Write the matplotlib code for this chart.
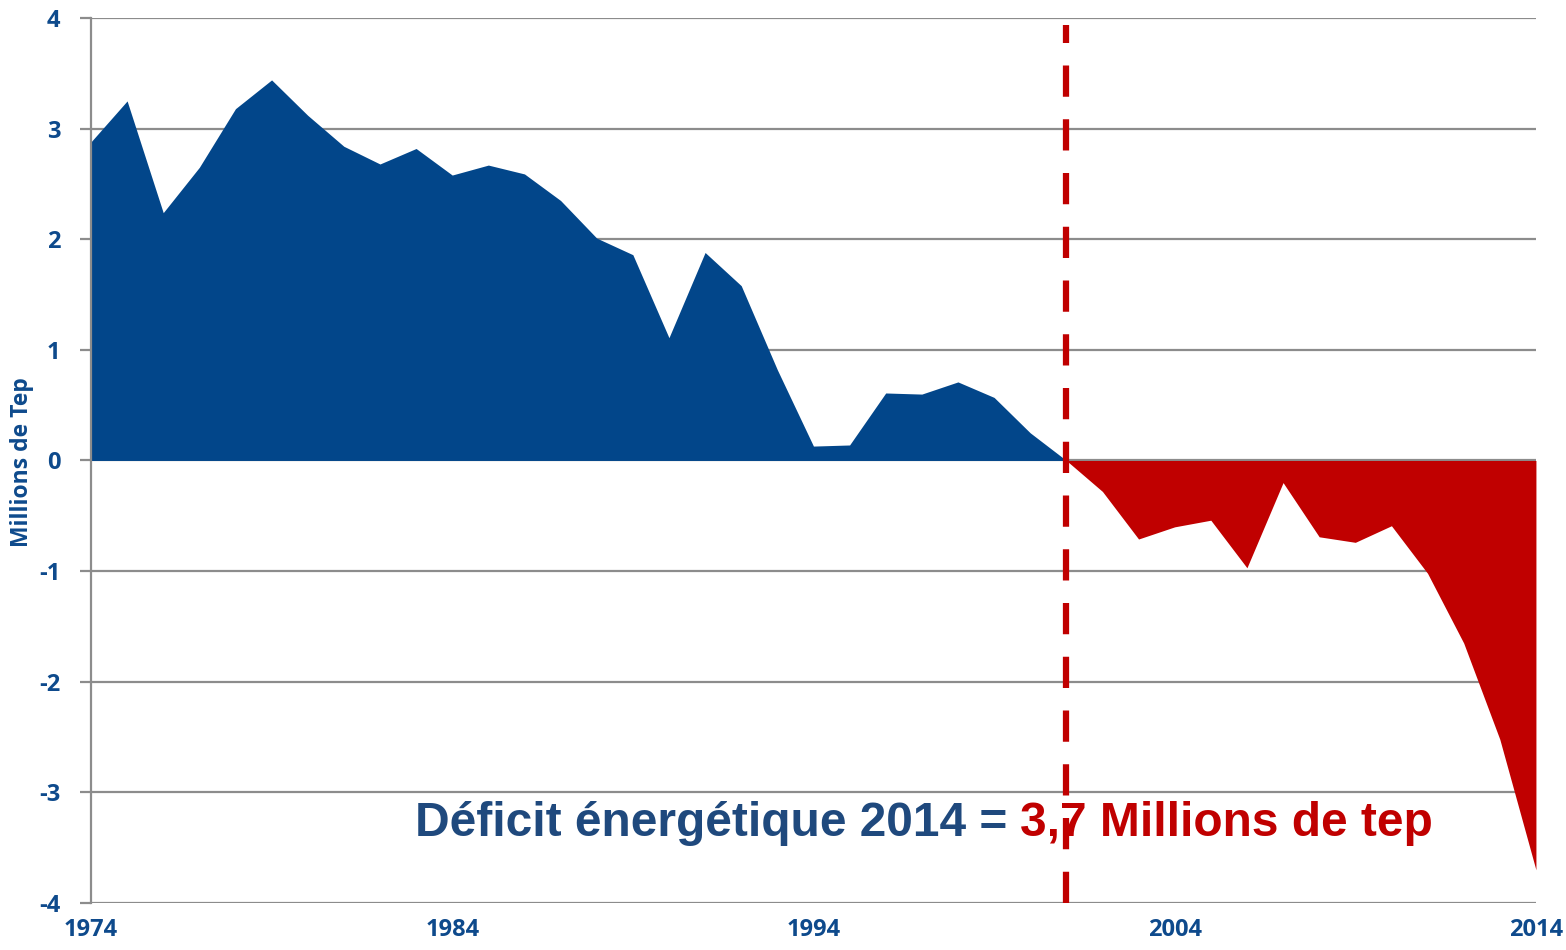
import matplotlib.pyplot as plt
import numpy as np

# energy balance, millions of tep
years = list(range(1974, 2015))
balance = [2.88, 3.25, 2.24, 2.65, 3.18, 3.44, 3.12, 2.84, 2.68, 2.82,
           2.58, 2.67, 2.59, 2.35, 2.01, 1.86, 1.11, 1.88, 1.58, 0.82,
           0.13, 0.14, 0.61, 0.60, 0.71, 0.57, 0.25, 0.00, -0.28, -0.71,
           -0.60, -0.54, -0.97, -0.20, -0.69, -0.74, -0.59, -1.02, -1.65,
           -2.52, -3.70]
split_year = 2001
xticks = [1974, 1984, 1994, 2004, 2014]
yticks = [-4, -3, -2, -1, 0, 1, 2, 3, 4]

blue = '#02468A'
red = '#C00000'
tick_blue = '#0E4A8C'
text_blue = '#1F497D'

x = np.array(years)
y = np.array(balance)

fig = plt.figure(figsize=(15.66, 9.5), dpi=100)
ax = fig.add_axes([0.0581, 0.0495, 0.9227, 0.9316])

pos = x <= split_year
neg = x >= split_year
ax.fill_between(x[pos], 0, y[pos], color=blue, linewidth=0)
ax.fill_between(x[neg], 0, y[neg], color=red, linewidth=0)

ax.set_xlim(1974, 2014)
ax.set_ylim(-4, 4)
ax.set_yticks(yticks)
ax.set_yticklabels([str(v) for v in yticks])
ax.set_xticks(xticks)
ax.set_xticklabels([str(v) for v in xticks])

ax.yaxis.grid(True, color='#8C8C8C', linewidth=1.6)
ax.set_axisbelow(True)
for s in ['top', 'right', 'bottom']:
    ax.spines[s].set_visible(False)
ax.spines['left'].set_color('#8C8C8C')
ax.spines['left'].set_linewidth(1.6)
ax.tick_params(axis='y', length=8, width=1.6, color='#8C8C8C', pad=14)
ax.tick_params(axis='x', length=0, pad=11)

for lab in ax.get_yticklabels() + ax.get_xticklabels():
    lab.set_fontfamily('Open Sans')
    lab.set_fontweight('bold')
    lab.set_fontsize(17)
    lab.set_color(tick_blue)

fig.text(22 / 1566, 1 - 462 / 950, 'Millions de Tep', rotation=90,
         fontfamily='Open Sans', fontweight='bold', fontsize=16.5,
         color=tick_blue, ha='center', va='center')

ax.plot([split_year, split_year], [-4, 3.94], color=red, linewidth=4.5,
        dashes=(5, 3.6), zorder=5)

t1 = ax.text(0.224, -3.28, 'Déficit énergétique 2014 = ', color=text_blue,
             fontfamily='Liberation Sans', fontweight='bold', fontsize=34.5,
             va='center', ha='left', transform=ax.get_yaxis_transform(),
             zorder=6)
fig.canvas.draw()
bb = t1.get_window_extent()
x_end = ax.transAxes.inverted().transform((bb.x1, bb.y0))[0]
ax.text(x_end, -3.28, '3,7 Millions de tep', color=red,
        fontfamily='Liberation Sans', fontweight='bold', fontsize=34.5,
        va='center', ha='left', transform=ax.get_yaxis_transform(), zorder=6)

fig.savefig('out.png', dpi=100)
